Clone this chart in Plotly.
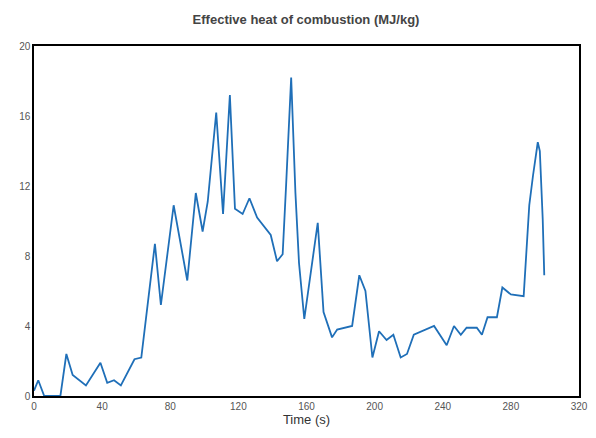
import plotly.graph_objects as go

time_s = [0, 2.5, 6, 15.5, 19, 22.7, 30.5, 39, 43, 47, 51, 59, 63, 67, 71, 74.5, 82, 90, 95, 99,
          102, 107, 111, 115, 118, 122.5, 126.5, 131, 139, 142.7, 146, 148, 151, 153.5, 155.6,
          158.7, 166.6, 170, 175, 178, 186.8, 191, 194.6, 198.7, 202.6, 207, 211, 215.3, 219,
          223, 230.6, 234.9, 242.3, 246.6, 250.6, 254, 260, 263, 266.3, 271.8, 275, 280, 287.5,
          290.8, 293, 295, 295.8, 297, 298.7, 299.6]
ehc = [0.3, 0.9, 0, 0, 2.4, 1.2, 0.6, 1.9, 0.75, 0.9, 0.6, 2.1, 2.2, 5.3, 8.7, 5.2, 10.9, 6.6,
       11.6, 9.4, 11.1, 16.2, 10.4, 17.2, 10.7, 10.4, 11.3, 10.2, 9.2, 7.7, 8.1, 12, 18.2, 11.6,
       7.6, 4.4, 9.9, 4.8, 3.35, 3.8, 4.0, 6.9, 6.0, 2.2, 3.7, 3.2, 3.5, 2.2, 2.4, 3.5, 3.8, 4.0,
       2.9, 4.0, 3.5, 3.9, 3.9, 3.5, 4.5, 4.5, 6.2, 5.8, 5.7, 10.9, 12.6, 13.8, 14.5, 14, 10.1, 6.9]

fig = go.Figure()
fig.add_trace(go.Scatter(x=time_s, y=ehc, mode="lines",
                         line=dict(color="#1f6fb8", width=1.8), showlegend=False))

axis_style = dict(showgrid=False, zeroline=False, showline=True, linecolor="black",
                  linewidth=1.5, mirror=True, ticks="", automargin=False,
                  tickfont=dict(size=10, color="#555"))
fig.update_xaxes(range=[0, 320], dtick=40, title=dict(text="Time (s)", font=dict(size=13), standoff=2),
                 **axis_style)
fig.update_yaxes(range=[0, 20], dtick=4, **axis_style)

fig.update_layout(
    width=596, height=438,
    margin=dict(l=26, r=25, t=38, b=50),
    plot_bgcolor="white", paper_bgcolor="white",
    font=dict(family="Arial, Liberation Sans", color="#333"),
    title=dict(text="<b>Effective heat of combustion (MJ/kg)</b>", x=0.5, y=0.985,
               xanchor="center", yanchor="top", font=dict(size=13, color="#444")),
)

fig.write_html("out.html")
